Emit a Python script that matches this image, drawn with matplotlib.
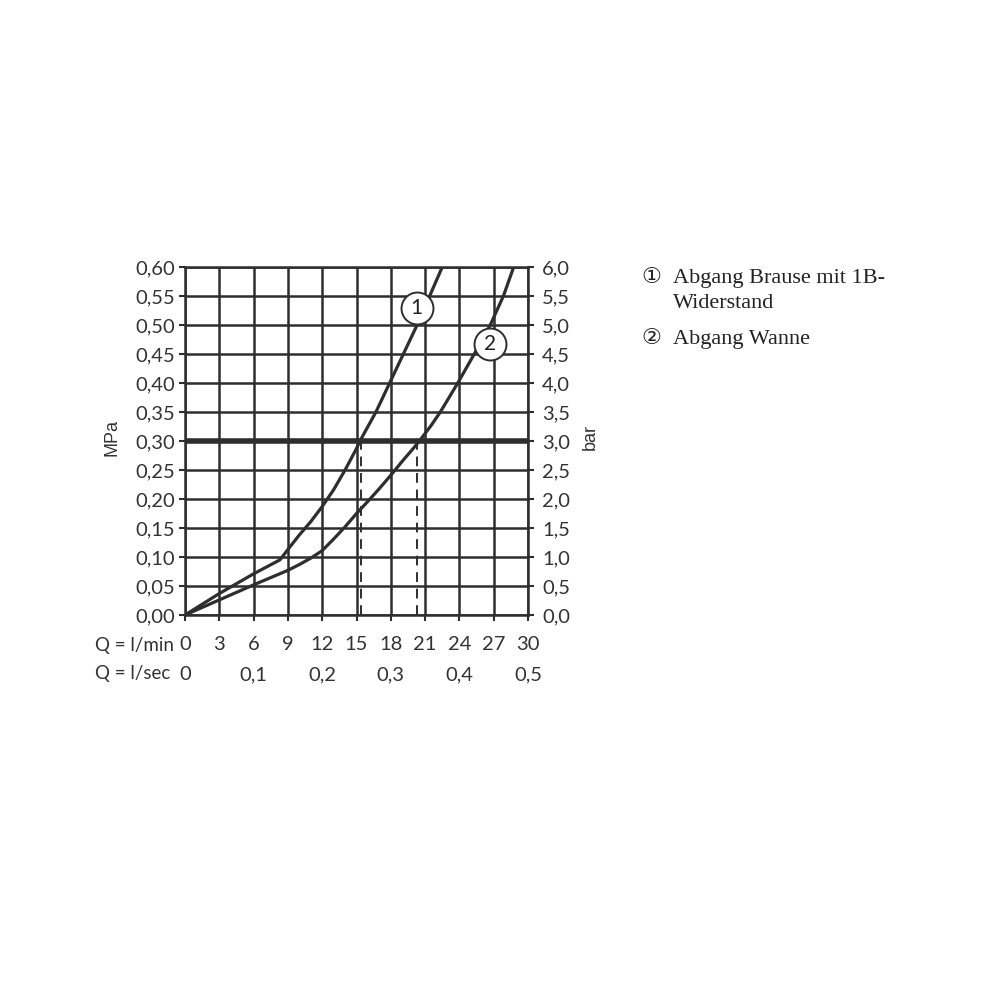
import numpy as np
import matplotlib.pyplot as plt
from matplotlib.ticker import FuncFormatter

# flow in l/min, pressure in MPa
q1 = [0, 3, 6, 8.3, 9.2, 10, 11, 12, 13, 14, 15, 15.3, 16, 16.7, 17.9, 19.1, 20.3, 21.4, 22.5]
p1 = [0, 0.037, 0.071, 0.095, 0.118, 0.138, 0.161, 0.187, 0.216, 0.25, 0.287, 0.30, 0.325, 0.35, 0.40, 0.45, 0.50, 0.55, 0.60]
q2 = [0, 3, 6, 9, 10, 11, 12, 13, 14, 15, 16, 17, 18, 19, 20, 20.5, 21.5, 22.3, 23.8, 25.3, 26.7, 27.85, 28.75]
p2 = [0, 0.026, 0.052, 0.077, 0.087, 0.098, 0.111, 0.131, 0.152, 0.175, 0.196, 0.218, 0.241, 0.265, 0.288, 0.30, 0.326, 0.349, 0.398, 0.45, 0.50, 0.55, 0.60]

work_p = 0.30
cross_q = [15.4, 20.3]
marks = [("1", 20.27, 0.529), ("2", 26.7, 0.468)]

x_ticks = list(range(0, 31, 3))
sec_ticks = [0, 0.1, 0.2, 0.3, 0.4, 0.5]
mpa_ticks = np.arange(0, 0.61, 0.05)
bar_ticks = np.arange(0, 6.01, 0.5)

legend_nums = ["\u2460", "", "\u2461"]
legend_lines = ["Abgang Brause mit 1B-", "Widerstand", "Abgang Wanne"]

col = "#2e2e2e"
tick_font = "Lato"
fs = 14.5

fig = plt.figure(figsize=(10, 10), dpi=100)
ax = fig.add_axes([0.185, 0.385, 0.343, 0.348])

ax.set_xlim(0, 30)
ax.set_ylim(0, 0.6)
ax.set_xticks(x_ticks)
ax.set_yticks(mpa_ticks)
ax.grid(True, color=col, lw=1.8)
ax.set_axisbelow(True)
for s in ax.spines.values():
    s.set_color(col)
    s.set_linewidth(1.8)

ax.tick_params(axis="both", color=col, width=1.5, length=4, labelcolor="#333333", labelsize=fs)
ax.tick_params(axis="x", pad=11)
ax.tick_params(axis="y", pad=3)
ax.yaxis.set_major_formatter(FuncFormatter(lambda v, p: f"{v:.2f}".replace(".", ",")))
for lab in ax.get_xticklabels() + ax.get_yticklabels():
    lab.set_family(tick_font)

# heavy working-pressure line
ax.axhline(work_p, color=col, lw=4, zorder=3)

# dashed drop lines
for q in cross_q:
    ax.plot([q, q], [0, work_p], color=col, lw=1.4, ls=(0, (5, 3.5)), zorder=3)

ax.plot(q1, p1, color=col, lw=2.3, zorder=4, solid_joinstyle="round")
ax.plot(q2, p2, color=col, lw=2.3, zorder=4, solid_joinstyle="round")

for t, q, p in marks:
    ax.plot(q, p, marker="o", ms=23, mfc="white", mec=col, mew=1.4, zorder=5)
    ax.text(q, p, t, ha="center", va="center", fontsize=15, color="#222222",
            family=tick_font, zorder=6)

# right axis in bar
axr = ax.twinx()
axr.set_ylim(0, 6)
axr.set_yticks(bar_ticks)
axr.yaxis.set_major_formatter(FuncFormatter(lambda v, p: f"{v:.1f}".replace(".", ",")))
axr.tick_params(axis="y", color=col, width=1.5, length=4, labelcolor="#333333", labelsize=fs, pad=6)
for s in axr.spines.values():
    s.set_visible(False)
for lab in axr.get_yticklabels():
    lab.set_family(tick_font)

# second row of flow: l/sec
sec = ax.secondary_xaxis("bottom", functions=(lambda q: q / 60.0, lambda s: s * 60.0))
sec.set_xticks(sec_ticks)
sec.xaxis.set_major_formatter(FuncFormatter(lambda v, p: "0" if v == 0 else f"{v:.1f}".replace(".", ",")))
sec.tick_params(axis="x", length=0, pad=37, labelsize=fs, labelcolor="#333333")
sec.spines["bottom"].set_visible(False)
for lab in sec.get_xticklabels():
    lab.set_family(tick_font)

fig.text(0.095, 0.349, "Q = l/min", fontsize=13.5, color="#333333", family=tick_font, va="baseline")
fig.text(0.095, 0.321, "Q = l/sec", fontsize=13.5, color="#333333", family=tick_font, va="baseline")

fig.text(0.112, 0.563, "MPa", rotation=90, ha="center", va="center", fontsize=13,
         color="#333333", family="Liberation Sans")
fig.text(0.590, 0.563, "bar", rotation=90, ha="center", va="center", fontsize=13,
         color="#333333", family="Liberation Sans")

ys = [0.717, 0.692, 0.656]
for num, line, y in zip(legend_nums, legend_lines, ys):
    if num:
        fig.text(0.651, y + 0.006, num, fontsize=16, color="#222222", ha="center", va="center",
                 family=["DejaVu Sans"])
    fig.text(0.673, y, line, fontsize=16, color="#222222", va="baseline",
             family=["Liberation Serif", "DejaVu Sans"])

fig.savefig("out.png", dpi=100, facecolor="white")
